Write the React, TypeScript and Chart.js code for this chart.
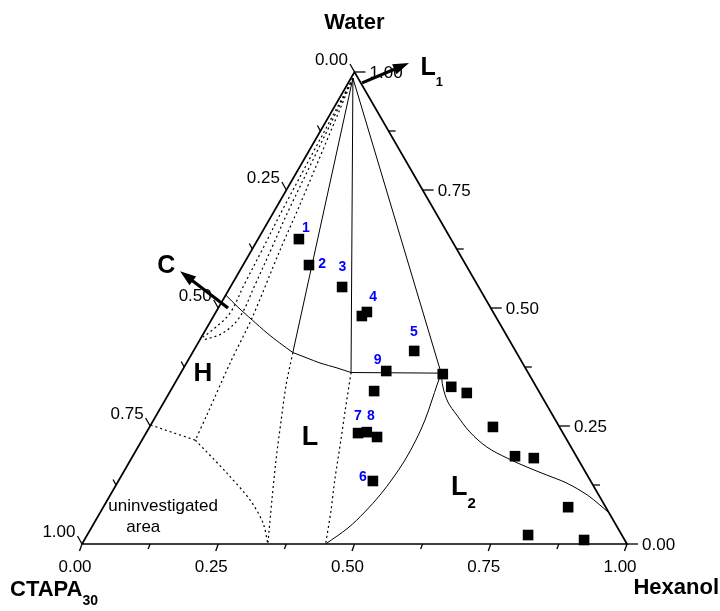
import React, { useEffect, useRef } from 'react';
import { Chart, registerables } from 'chart.js';

Chart.register(...registerables);

type HW = [number, number]; // [hexanol fraction, water fraction]

const SQ3 = Math.sqrt(3) / 2;
const FONT = "'Liberation Sans', Arial, Helvetica, sans-serif";

// ---- axis ticks ----
const tickValues = [0, 0.25, 0.5, 0.75, 1];
const tickLabels = ['0.00', '0.25', '0.50', '0.75', '1.00'];
const minorTickValues = [0.125, 0.375, 0.625, 0.875];

// ---- investigated samples (hexanol, water) ----
const sampleHexanol = [0.075, 0.121, 0.205, 0.272, 0.277, 0.405, 0.375, 0.482, 0.511, 0.546, 0.374, 0.389, 0.404, 0.428, 0.467, 0.63, 0.7015, 0.738, 0.853, 0.809, 0.917];
const sampleWater = [0.646, 0.591, 0.5445, 0.483, 0.4915, 0.409, 0.3665, 0.36, 0.333, 0.32, 0.324, 0.235, 0.237, 0.2267, 0.1335, 0.248, 0.186, 0.182, 0.078, 0.019, 0.0085];

// ---- sample numbers ----
const sampleTags = ['1', '2', '3', '4', '5', '9', '7', '8', '6'];
const sampleTagHexanol = [0.076, 0.144, 0.185, 0.273, 0.385, 0.348, 0.371, 0.395, 0.444];
const sampleTagWater = [0.6695, 0.593, 0.586, 0.522, 0.448, 0.389, 0.27, 0.27, 0.1426];

// ---- triangle frame ----
const frame: HW[] = [[0, 0], [1, 0], [0, 1], [0, 0]];

// ---- solid phase boundaries ----
const lineHL: HW[] = [[0.0036, 0.987], [0.184, 0.4057]];
const lineMid: HW[] = [[0.0036, 0.987], [0.312, 0.3633]];
const lineLL2: HW[] = [[0.0036, 0.987], [0.478, 0.362]];
const tieLine: HW[] = [[0.312, 0.3633], [0.478, 0.362]];
const curveCH: HW[] = [[0, 0.5275], [0.035, 0.502], [0.075, 0.4746], [0.116, 0.447], [0.15, 0.4258], [0.184, 0.4057]];
const curveHL: HW[] = [[0.184, 0.4057], [0.216, 0.394], [0.245, 0.3835], [0.2815, 0.373], [0.312, 0.3633]];
const curveL2left: HW[] = [[0.447, 0], [0.471, 0.0339], [0.485, 0.0678], [0.495, 0.1038], [0.5007, 0.1398], [0.5037, 0.178], [0.5026, 0.2203], [0.498, 0.2627], [0.4897, 0.305], [0.483, 0.3369], [0.478, 0.362]];
const curveL2upper: HW[] = [[0.478, 0.362], [0.496, 0.3326], [0.521, 0.3008], [0.551, 0.2733], [0.593, 0.2373], [0.64, 0.2055], [0.689, 0.182], [0.735, 0.163], [0.78, 0.146], [0.825, 0.129], [0.875, 0.104], [0.909, 0.0826], [0.931, 0.068]];

// ---- dotted (tentative) boundaries ----
const dotOuterH: HW[] = [[0.0036, 0.987], [0.041, 0.714], [0.052, 0.623], [0.0725, 0.479], [0.08, 0.3835], [0.092, 0.2775], [0.098, 0.22]];
const dotMidH: HW[] = [[0.0036, 0.987], [0.025, 0.714], [0.035, 0.623], [0.043, 0.5487], [0.049, 0.481], [0.035, 0.447], [0.006, 0.432]];
const dotInnerH: HW[] = [[0.0036, 0.987], [0.0136, 0.714], [0.019, 0.623], [0.0226, 0.553], [0.027, 0.489], [0.015, 0.4576], [0.003, 0.4386]];
const dotUninvA: HW[] = [[0, 0.252], [0.098, 0.22]];
const dotUninvB: HW[] = [[0.098, 0.22], [0.191, 0.15], [0.262, 0.093], [0.31, 0.0445], [0.341, 0]];
const dotHLlow: HW[] = [[0.184, 0.4057], [0.206, 0.337], [0.234, 0.263], [0.267, 0.178], [0.302, 0.093], [0.341, 0]];
const dotLlow: HW[] = [[0.312, 0.3633], [0.341, 0.284], [0.365, 0.22], [0.396, 0.1356], [0.421, 0.072], [0.447, 0]];

// ---- annotations (composition coordinates) ----
const arrowC = { tail: [0.018, 0.5] as HW, tip: [-0.109, 0.578] as HW };
const arrowL1 = { tail: [0.0255, 0.977] as HW, tip: [0.0905, 1.019] as HW };
const phaseLabels = [
  { text: 'H', sub: '', at: [0.042, 0.36] as HW, size: 26, subSize: 0, subDy: 0 },
  { text: 'L', sub: '', at: [0.306, 0.2246] as HW, size: 27, subSize: 0, subDy: 0 },
  { text: 'L', sub: '2', at: [0.633, 0.1186] as HW, size: 27, subSize: 15, subDy: 20 },
  { text: 'C', sub: '', at: [-0.14, 0.589] as HW, size: 25, subSize: 0, subDy: 0 },
  { text: 'L', sub: '1', at: [0.131, 1.008] as HW, size: 25, subSize: 13, subDy: 18 },
];
const noteLines = [
  { text: 'uninvestigated', at: [0.114, 0.0699] as HW },
  { text: 'area', at: [0.0995, 0.026] as HW },
];

const toXY = ([h, w]: HW) => ({ x: h + w / 2, y: w * SQ3 });

const decor = {
  id: 'ternaryDecor',
  afterDatasetsDraw(chart: any) {
    const { ctx } = chart;
    const xs = chart.scales.x;
    const ys = chart.scales.y;
    const P = (h: number, w: number): [number, number] => [xs.getPixelForValue(h + w / 2), ys.getPixelForValue(w * SQ3)];
    ctx.save();
    ctx.strokeStyle = '#000';
    ctx.fillStyle = '#000';
    ctx.lineWidth = 1.3;
    const tick = (x0: number, y0: number, dx: number, dy: number) => {
      ctx.beginPath();
      ctx.moveTo(x0, y0);
      ctx.lineTo(x0 + dx, y0 + dy);
      ctx.stroke();
    };
    ctx.font = `17px ${FONT}`;
    ctx.textBaseline = 'alphabetic';
    // bottom axis: hexanol
    tickValues.forEach((v, i) => {
      const [px, py] = P(v, 0);
      tick(px, py, -2.5, 7);
      ctx.textAlign = 'center';
      ctx.fillText(tickLabels[i], px - 7, py + 28);
    });
    minorTickValues.forEach((v) => {
      const [px, py] = P(v, 0);
      tick(px, py, -2, 5);
    });
    // right axis: water
    tickValues.forEach((v, i) => {
      const [px, py] = P(1 - v, v);
      tick(px, py, 11, 0);
      ctx.textAlign = 'left';
      ctx.fillText(tickLabels[i], px + 15, py + 6);
    });
    minorTickValues.forEach((v) => {
      const [px, py] = P(1 - v, v);
      tick(px, py, 7, 0);
    });
    // left axis: CTAPA30
    tickValues.forEach((v, i) => {
      const [px, py] = P(0, 1 - v);
      tick(px, py, -4.5, -8);
      ctx.textAlign = 'right';
      ctx.fillText(tickLabels[i], px - 6.5, py - 7);
    });
    minorTickValues.forEach((v) => {
      const [px, py] = P(0, 1 - v);
      tick(px, py, -3, -5.5);
    });

    // arrows
    const arrow = (t: HW, tip: HW) => {
      const [x0, y0] = P(t[0], t[1]);
      const [x1, y1] = P(tip[0], tip[1]);
      const a = Math.atan2(y1 - y0, x1 - x0);
      const hl = 16;
      const hw = 5.5;
      const bx = x1 - hl * Math.cos(a);
      const by = y1 - hl * Math.sin(a);
      ctx.lineWidth = 3.2;
      ctx.beginPath();
      ctx.moveTo(x0, y0);
      ctx.lineTo(bx + 2 * Math.cos(a), by + 2 * Math.sin(a));
      ctx.stroke();
      ctx.beginPath();
      ctx.moveTo(x1, y1);
      ctx.lineTo(bx + hw * Math.sin(a), by - hw * Math.cos(a));
      ctx.lineTo(bx - hw * Math.sin(a), by + hw * Math.cos(a));
      ctx.closePath();
      ctx.fill();
    };
    arrow(arrowC.tail, arrowC.tip);
    arrow(arrowL1.tail, arrowL1.tip);

    // phase labels
    phaseLabels.forEach((l) => {
      const [x, y] = P(l.at[0], l.at[1]);
      ctx.font = `bold ${l.size}px ${FONT}`;
      ctx.textAlign = 'center';
      ctx.textBaseline = 'middle';
      ctx.fillText(l.text, x, y);
      if (l.sub) {
        const tw = ctx.measureText(l.text).width;
        ctx.font = `bold ${l.subSize}px ${FONT}`;
        ctx.textAlign = 'left';
        ctx.textBaseline = 'alphabetic';
        ctx.fillText(l.sub, x + tw / 2, y + l.subDy);
      }
    });

    // note text
    ctx.font = `17px ${FONT}`;
    ctx.textAlign = 'center';
    ctx.textBaseline = 'alphabetic';
    noteLines.forEach((n) => {
      const [x, y] = P(n.at[0], n.at[1]);
      ctx.fillText(n.text, x, y);
    });

    // sample numbers
    ctx.fillStyle = '#0000ff';
    ctx.font = `bold 14px ${FONT}`;
    ctx.textAlign = 'center';
    ctx.textBaseline = 'middle';
    sampleTags.forEach((t, i) => {
      const [x, y] = P(sampleTagHexanol[i], sampleTagWater[i]);
      ctx.fillText(t, x, y);
    });

    // axis titles
    ctx.fillStyle = '#000';
    ctx.textBaseline = 'alphabetic';
    const [tx, ty] = P(0, 1);
    ctx.font = `bold 22px ${FONT}`;
    ctx.textAlign = 'center';
    ctx.fillText('Water', tx, ty - 43);
    const [lx, ly] = P(0, 0);
    ctx.textAlign = 'left';
    ctx.fillText('CTAPA', lx - 72, ly + 52);
    const cw = ctx.measureText('CTAPA').width;
    ctx.font = `bold 14px ${FONT}`;
    ctx.fillText('30', lx - 72 + cw, ly + 61);
    const [rx, ry] = P(1, 0);
    ctx.font = `bold 22px ${FONT}`;
    ctx.textAlign = 'right';
    ctx.fillText('Hexanol', rx + 92, ry + 50);
    ctx.restore();
  },
};

const lineDs = (data: HW[], width: number, dotted: boolean, tension: number) => ({
  data: data.map(toXY),
  showLine: true,
  borderColor: '#000',
  borderWidth: width,
  borderDash: dotted ? [2, 3] : [],
  pointRadius: 0,
  tension,
  fill: false,
  clip: false as const,
});

export default function App() {
  const ref = useRef<HTMLCanvasElement | null>(null);
  useEffect(() => {
    if (!ref.current) return;
    const samples = sampleHexanol.map((h, i) => toXY([h, sampleWater[i]]));
    const chart = new Chart(ref.current, {
      type: 'scatter',
      data: {
        datasets: [
          {
            data: samples,
            pointStyle: 'rect',
            pointRadius: 7.5,
            backgroundColor: '#000',
            borderWidth: 0,
            showLine: false,
            clip: false,
          } as any,
          lineDs(frame, 1.7, false, 0),
          lineDs(lineHL, 1, false, 0),
          lineDs(lineMid, 1, false, 0),
          lineDs(lineLL2, 1, false, 0),
          lineDs(tieLine, 1, false, 0),
          lineDs(curveCH, 1, false, 0.3),
          lineDs(curveHL, 1, false, 0.3),
          lineDs(curveL2left, 1, false, 0.35),
          lineDs(curveL2upper, 1, false, 0.35),
          lineDs(dotOuterH, 1.2, true, 0.3),
          lineDs(dotMidH, 1.2, true, 0.35),
          lineDs(dotInnerH, 1.2, true, 0.35),
          lineDs(dotUninvA, 1.2, true, 0),
          lineDs(dotUninvB, 1.2, true, 0.3),
          lineDs(dotHLlow, 1.2, true, 0.3),
          lineDs(dotLlow, 1.2, true, 0.3),
        ] as any,
      },
      options: {
        responsive: false,
        maintainAspectRatio: false,
        animation: false,
        events: [],
        layout: { padding: { left: 82, right: 93, top: 72, bottom: 67 } },
        scales: {
          x: { type: 'linear', min: 0, max: 1, display: false },
          y: { type: 'linear', min: 0, max: SQ3, display: false },
        },
        elements: { line: { capBezierPoints: false } },
        plugins: { legend: { display: false }, tooltip: { enabled: false }, title: { display: false } },
      },
      plugins: [decor],
    });
    return () => chart.destroy();
  }, []);
  return (
    <div style={{ position: 'absolute', left: 0, top: 0, width: 720, height: 611, background: '#fff' }}>
      <canvas ref={ref} width={720} height={611} style={{ display: 'block' }} />
    </div>
  );
}
